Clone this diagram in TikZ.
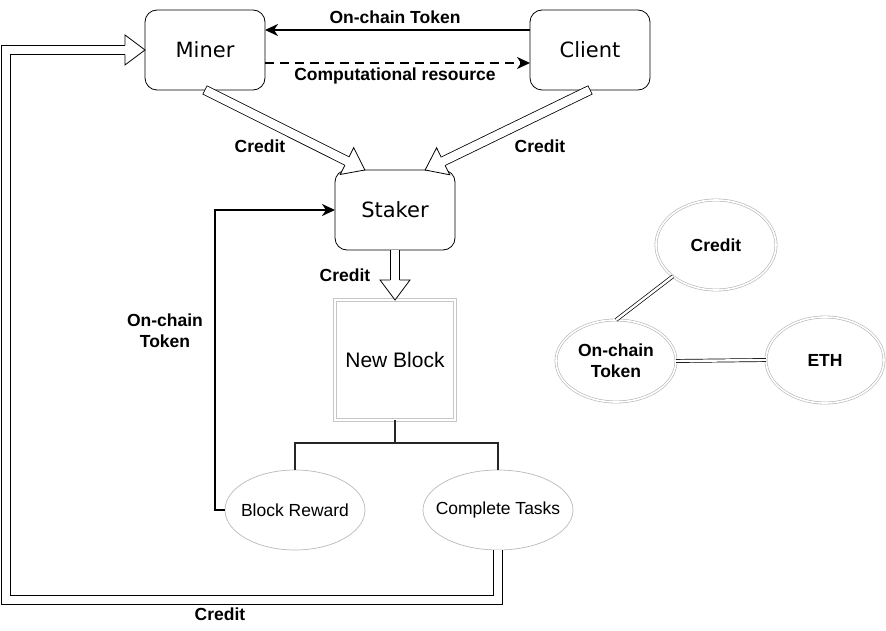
\documentclass[tikz,border=0pt]{standalone}
\usepackage{fontspec}
\setmainfont{Liberation Sans}
\newfontfamily\partyfont{DejaVu Sans}
\usetikzlibrary{positioning,
        shapes.geometric,
        arrows.meta,
        calc}

% open head at the end of a credit arrow
\newcommand{\credithead}[2]{%
        \path ($(#2)!20pt!(#1)$) coordinate (hb)
              ($(hb)!15pt!90:(#2)$) coordinate (hl)
              ($(hb)!15pt!-90:(#2)$) coordinate (hr)
              ($(hb)!4.6pt!90:(#2)$) coordinate (el)
              ($(hb)!4.6pt!-90:(#2)$) coordinate (er);
        \fill[white] (hl) -- (#2) -- (hr) -- cycle;
        \draw[line width=0.8pt,line join=miter] (el) -- (hl) -- (#2) -- (hr) -- (er);
}

\begin{document}
\begin{tikzpicture}[x=1pt,y=-1pt,
        party/.style={draw,rounded corners=12pt,minimum width=120pt,minimum height=80pt,
                inner sep=0pt,outer sep=0pt,line width=0.8pt,
                font=\partyfont\fontsize{21}{24}\selectfont},
        outcome/.style={ellipse,draw=gray!55,line width=0.7pt,inner sep=0pt,outer sep=0pt,
                minimum height=80pt},
        outcometext/.style={font=\fontsize{17.5}{20}\selectfont},
        asset/.style={ellipse,draw=gray!60,double=white,double distance=1.6pt,line width=0.6pt,
                inner sep=0pt,outer sep=0pt,align=center,
                font=\bfseries\fontsize{17.5}{21}\selectfont},
        lbl/.style={font=\bfseries\fontsize{17.5}{21}\selectfont,align=center},
        credit/.style={double=white,double distance=8.4pt,line width=0.8pt,line cap=rect,
                shorten <=4.6pt,shorten >=20pt},
        token/.style={line width=2.2pt,-{Stealth[length=13pt,width=12pt,inset=4pt]}},
        link/.style={draw,double=white,double distance=2.4pt,line width=0.7pt}]
        \useasboundingbox (0,0) rectangle (886,631);

        \node [party] (miner) at (205,50) {Miner};
        \node [party] (client) at (590,50) {Client};
        \node [party] (staker) at (395,210) {Staker};
        \node [draw=gray!45,double=white,double distance=1.8pt,line width=1pt,
                minimum width=120pt,minimum height=120pt,inner sep=0pt,outer sep=0pt,
                font=\fontsize{21}{24}\selectfont] (newblock) at (395,360) {New Block};
        \node [outcome,minimum width=140pt,label={[outcometext]center:Block Reward}] (reward) at (295,510) {};
        \node [outcome,minimum width=150pt,label={[outcometext]center:Complete Tasks}] (tasks) at (498,510) {};

        \node [asset,minimum width=120pt,minimum height=90pt] (credit) at (716,245) {Credit};
        \node [asset,minimum width=120pt,minimum height=82pt] (onchain) at (616,361) {On-chain\\Token};
        \node [asset,minimum width=118pt,minimum height=86pt] (eth) at (825,360) {ETH};

        % miner <-> client
        \draw [token] ($(client.west)+(0,-20)$) -- ($(miner.east)+(0,-20)$);
        \draw [token,dash pattern=on 9pt off 6pt] ($(miner.east)+(0,13)$) -- ($(client.west)+(0,13)$);
        \node [lbl] (toptoken) at (395,17) {On-chain Token};
        \node [lbl] (comp) at (395,76) {Computational resource};

        % credit to the staker
        \draw [credit] (miner.south) -- (staker.127);
        \credithead{miner.south}{staker.127}
        \draw [credit] (client.south) -- (staker.53);
        \credithead{client.south}{staker.53}
        \node [lbl] (creditl) at (260,146) {Credit};
        \node [lbl] (creditr) at (540,146) {Credit};

        \draw [credit] (staker.south) -- (newblock.north);
        \credithead{staker.south}{newblock.north}
        \node [lbl] (creditb) at (345,275) {Credit};

        % block outcomes
        \draw [line width=1.5pt,draw=black!85] (newblock.south) -- ++(0,23) coordinate (fork);
        \draw [line width=1.5pt,draw=black!85] (reward.north) |- (fork) -| (tasks.north);

        \draw [token] (reward.west) -- ++(-10,0) |- (staker.west);
        \node [lbl] (leftlbl) at (165,331) {On-chain\\Token};

        \coordinate (loopend) at (6,600);
        \coordinate (looptop) at (6,50);
        \draw [credit] (tasks.south) |- (loopend) -- (looptop) -- (miner.west);
        \credithead{looptop}{miner.west}
        \node [lbl] (creditd) at (220,614) {Credit};

        % assets
        \draw [link] (credit.216) -- (onchain.north);
        \draw [link] (onchain.east) -- (eth.west);
\end{tikzpicture}
\end{document}
